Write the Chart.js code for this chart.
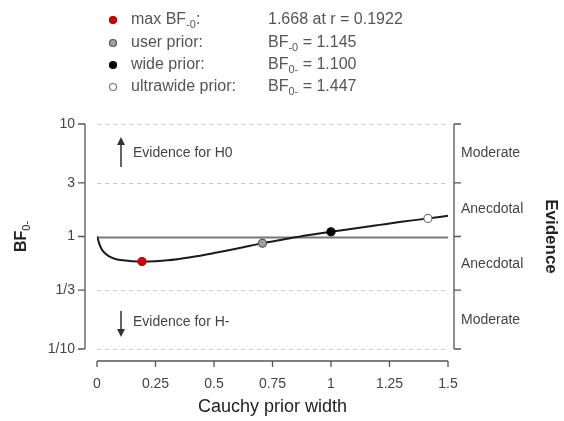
<!DOCTYPE html>
<html>
<head>
<meta charset="utf-8">
<script src="https://cdn.jsdelivr.net/npm/chart.js@4"></script>
<style>
  html, body { margin: 0; padding: 0; background: #fff; }
  #wrap { width: 564px; height: 421px; }
</style>
</head>
<body>
<div id="wrap"><canvas id="grafico" width="564" height="421"></canvas></div>
<script>
// prior widths (r) and BF0- along the robustness curve
var larguras = [0, 0.005, 0.01, 0.02, 0.03, 0.05, 0.075, 0.1, 0.15, 0.1922, 0.25, 0.3, 0.4, 0.5, 0.6, 0.707, 0.8, 0.9, 1.0, 1.1, 1.2, 1.3, 1.414, 1.5];
var fatores = [1, 0.93, 0.86, 0.77, 0.725, 0.67, 0.635, 0.617, 0.603, 0.5995, 0.604, 0.614, 0.655, 0.712, 0.781, 0.873, 0.945, 1.025, 1.100, 1.179, 1.262, 1.350, 1.447, 1.528];

// highlighted priors
var pontosR = [0.1922, 0.707, 1.0, 1.414];
var pontosBF = [0.5995, 0.873, 1.100, 1.447];
var pontosCor = ["#d40000", "#a0a0a0", "#000000", "#ffffff"];
var pontosBorda = ["#b00000", "#555555", "#000000", "#777777"];

// axis ticks
var ticksX = [0, 0.25, 0.5, 0.75, 1, 1.25, 1.5];
var ticksXLabels = ["0", "0.25", "0.5", "0.75", "1", "1.25", "1.5"];
var ticksY = [10, 3, 1, 1 / 3, 1 / 10];
var ticksYLabels = ["10", "3", "1", "1/3", "1/10"];
var evidencia = ["Moderate", "Anecdotal", "Anecdotal", "Moderate"];
var evidenciaPos = [5.5, 1.75, 0.57, 0.18];

// legend
var legendaTexto = [
  [["max BF", false], ["-0", true], [":", false]],
  [["user prior:", false]],
  [["wide prior:", false]],
  [["ultrawide prior:", false]]
];
var legendaValor = [
  [["1.668 at r = 0.1922", false]],
  [["BF", false], ["-0", true], [" = 1.145", false]],
  [["BF", false], ["0-", true], [" = 1.100", false]],
  [["BF", false], ["0-", true], [" = 1.447", false]]
];

var FONTE = '"Liberation Sans", Arial, sans-serif';

function textoSub(ctx, partes, x, y, tam, alinhar) {
  var total = 0;
  partes.forEach(function(p) {
    ctx.font = (p[1] ? Math.round(tam * 0.7) : tam) + "px " + FONTE;
    total += ctx.measureText(p[0]).width;
  });
  var cx = x;
  if (alinhar === "center") cx = x - total / 2;
  ctx.textAlign = "left";
  ctx.textBaseline = "middle";
  partes.forEach(function(p) {
    ctx.font = (p[1] ? Math.round(tam * 0.7) : tam) + "px " + FONTE;
    ctx.fillText(p[0], cx, p[1] ? y + tam * 0.3 : y);
    cx += ctx.measureText(p[0]).width;
  });
}

var desenhos = {
  id: "desenhos",
  beforeDatasetsDraw: function(chart) {
    var ctx = chart.ctx;
    var sx = chart.scales.x, sy = chart.scales.y;
    var x0 = sx.getPixelForValue(0), x1 = sx.getPixelForValue(1.5);
    ctx.save();
    // grid lines
    ticksY.forEach(function(v) {
      var y = Math.round(sy.getPixelForValue(v)) + 0.5;
      ctx.beginPath();
      if (v === 1) {
        ctx.setLineDash([]);
        ctx.strokeStyle = "#777";
        ctx.lineWidth = 2;
      } else {
        ctx.setLineDash([4, 4]);
        ctx.strokeStyle = "#c8c8c8";
        ctx.lineWidth = 1;
      }
      ctx.moveTo(x0, y);
      ctx.lineTo(x1, y);
      ctx.stroke();
    });
    ctx.setLineDash([]);
    ctx.restore();
  },
  afterDraw: function(chart) {
    var ctx = chart.ctx;
    var sx = chart.scales.x, sy = chart.scales.y;
    var yTop = sy.getPixelForValue(10), yBot = sy.getPixelForValue(0.1);
    var x0 = sx.getPixelForValue(0), x1 = sx.getPixelForValue(1.5);
    var eixoEsq = x0 - 12, eixoDir = x1 + 6, eixoX = yBot + 12;
    ctx.save();
    ctx.strokeStyle = "#555";
    ctx.lineWidth = 1.3;
    ctx.fillStyle = "#444";

    // left axis
    ctx.beginPath();
    ctx.moveTo(eixoEsq, yTop);
    ctx.lineTo(eixoEsq, yBot);
    ticksY.forEach(function(v) {
      var y = sy.getPixelForValue(v);
      ctx.moveTo(eixoEsq - 7, y);
      ctx.lineTo(eixoEsq, y);
    });
    ctx.stroke();
    ctx.font = "14px " + FONTE;
    ctx.textAlign = "right";
    ctx.textBaseline = "middle";
    ticksY.forEach(function(v, i) {
      ctx.fillText(ticksYLabels[i], eixoEsq - 10, sy.getPixelForValue(v));
    });

    // right axis
    ctx.beginPath();
    ctx.moveTo(eixoDir, yTop);
    ctx.lineTo(eixoDir, yBot);
    ticksY.forEach(function(v) {
      var y = sy.getPixelForValue(v);
      ctx.moveTo(eixoDir, y);
      ctx.lineTo(eixoDir + 7, y);
    });
    ctx.stroke();
    ctx.textAlign = "left";
    ctx.font = "14px " + FONTE;
    evidencia.forEach(function(t, i) {
      ctx.fillText(t, eixoDir + 7, sy.getPixelForValue(evidenciaPos[i]));
    });

    // bottom axis
    ctx.beginPath();
    ctx.moveTo(x0, eixoX);
    ctx.lineTo(x1, eixoX);
    ticksX.forEach(function(v) {
      var x = sx.getPixelForValue(v);
      ctx.moveTo(x, eixoX);
      ctx.lineTo(x, eixoX + 6);
    });
    ctx.stroke();
    ctx.textAlign = "center";
    ctx.font = "14px " + FONTE;
    ticksX.forEach(function(v, i) {
      ctx.fillText(ticksXLabels[i], sx.getPixelForValue(v), eixoX + 23);
    });

    // axis titles
    ctx.fillStyle = "#222";
    ctx.font = "18px " + FONTE;
    ctx.fillText("Cauchy prior width", (x0 + x1) / 2, eixoX + 46);

    ctx.save();
    ctx.translate(22, sy.getPixelForValue(1));
    ctx.rotate(-Math.PI / 2);
    ctx.font = "bold 16px " + FONTE;
    var wBF = ctx.measureText("BF").width;
    ctx.font = "11px " + FONTE;
    var wSub = ctx.measureText("0-").width;
    var ini = -(wBF + wSub) / 2;
    ctx.textAlign = "left";
    ctx.font = "bold 16px " + FONTE;
    ctx.fillText("BF", ini, 0);
    ctx.font = "11px " + FONTE;
    ctx.fillText("0-", ini + wBF, 5);
    ctx.restore();

    ctx.save();
    ctx.translate(551, sy.getPixelForValue(1));
    ctx.rotate(Math.PI / 2);
    ctx.textAlign = "center";
    ctx.font = "bold 17px " + FONTE;
    ctx.fillText("Evidence", 0, 0);
    ctx.restore();

    // evidence arrows
    ctx.fillStyle = "#333";
    ctx.strokeStyle = "#333";
    ctx.lineWidth = 1.5;
    var ax = 121;
    ctx.beginPath();
    ctx.moveTo(ax, 167); ctx.lineTo(ax, 141);
    ctx.moveTo(ax, 311); ctx.lineTo(ax, 333);
    ctx.stroke();
    ctx.beginPath();
    ctx.moveTo(ax, 137); ctx.lineTo(ax - 4, 145); ctx.lineTo(ax + 4, 145); ctx.closePath();
    ctx.moveTo(ax, 337); ctx.lineTo(ax - 4, 329); ctx.lineTo(ax + 4, 329); ctx.closePath();
    ctx.fill();
    ctx.fillStyle = "#444";
    ctx.textAlign = "left";
    ctx.font = "14px " + FONTE;
    ctx.fillText("Evidence for H0", 133, 153);
    ctx.fillText("Evidence for H-", 133, 322);

    // legend
    var linhas = [20, 43, 65, 87];
    linhas.forEach(function(y, i) {
      ctx.beginPath();
      ctx.arc(113, y, 3.5, 0, Math.PI * 2);
      ctx.fillStyle = pontosCor[i];
      ctx.fill();
      ctx.lineWidth = 1.2;
      ctx.strokeStyle = pontosBorda[i];
      ctx.stroke();
      ctx.fillStyle = "#555";
      textoSub(ctx, legendaTexto[i], 131, y, 16);
      textoSub(ctx, legendaValor[i], 268, y, 16);
    });
    ctx.restore();
  }
};

var curva = larguras.map(function(r, i) { return { x: r, y: fatores[i] }; });
var pontos = pontosR.map(function(r, i) { return { x: r, y: pontosBF[i] }; });

new Chart(document.getElementById("grafico").getContext("2d"), {
  type: "line",
  data: {
    datasets: [
      {
        data: pontos,
        showLine: false,
        pointRadius: 4,
        pointBorderWidth: 1.2,
        pointBackgroundColor: pontosCor,
        pointBorderColor: pontosBorda,
        order: 0
      },
      {
        data: curva,
        borderColor: "#1a1a1a",
        borderWidth: 2,
        pointRadius: 0,
        cubicInterpolationMode: "monotone",
        fill: false,
        order: 1
      }
    ]
  },
  options: {
    responsive: false,
    animation: false,
    layout: { padding: { left: 97, right: 116, top: 124, bottom: 72 } },
    plugins: { legend: { display: false }, tooltip: { enabled: false } },
    scales: {
      x: { type: "linear", min: 0, max: 1.5, display: false },
      y: { type: "logarithmic", min: 0.1, max: 10, display: false }
    }
  },
  plugins: [desenhos]
});
</script>
</body>
</html>
